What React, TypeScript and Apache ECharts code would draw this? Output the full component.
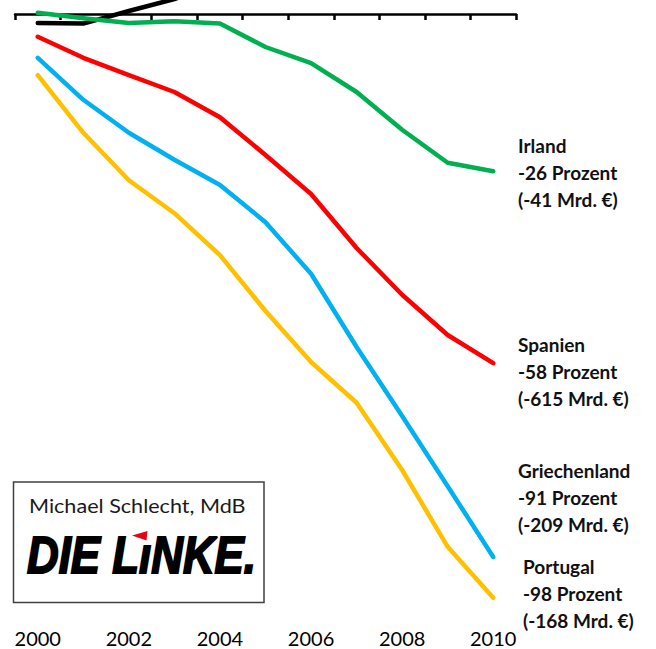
import React, { useEffect, useRef } from "react";
import * as echarts from "echarts";

const years = ["2000", "2001", "2002", "2003", "2004", "2005", "2006", "2007", "2008", "2009", "2010"];
const deutschland = [-1.5, -1.6, 0.5, 2.5, 5, 8, 12, 17, 20, 24, 27];
const irland = [0.2, -0.7, -1.5, -1.2, -1.6, -5.5, -8.2, -13, -19.3, -24.8, -26.2];
const spanien = [-3.8, -7.3, -10.2, -13, -17.2, -23.5, -30, -39, -46.8, -53.5, -58.2];
const griechenland = [-7.3, -14.3, -19.8, -24.3, -28.5, -34.7, -43.3, -55.5, -67, -78.7, -90.5];
const portugal = [-10.2, -19.8, -27.7, -33.2, -40.2, -49.5, -58, -64.8, -76, -88.8, -97.3];

const labelIrland = ["Irland", "-26 Prozent", "(-41 Mrd. €)"];
const labelSpanien = ["Spanien", "-58 Prozent", "(-615 Mrd. €)"];
const labelGriechenland = ["Griechenland", "-91 Prozent", "(-209 Mrd. €)"];
const labelPortugal = ["Portugal", "-98 Prozent", "(-168 Mrd. €)"];

const author = "Michael Schlecht, MdB";
const logoText = "DIE L\u0131NKE.";

export default function App() {
  const ref = useRef<HTMLDivElement>(null);
  useEffect(() => {
    if (!ref.current) return;
    const chart = echarts.init(ref.current, null, { renderer: "svg" });
    const lineSeries = (name: string, data: number[], color: string) => ({
      name,
      type: "line",
      data,
      xAxisIndex: 0,
      yAxisIndex: 0,
      symbol: "none",
      clip: true,
      lineStyle: { color, width: 4.5, cap: "round", join: "round" },
      itemStyle: { color },
    });
    const blockText = (x: number, top: number, lines: string[]) => ({
      type: "text",
      x,
      y: top,
      style: {
        text: lines.join("\n"),
        fontFamily: "Lato",
        fontWeight: "bold",
        fontSize: 19,
        lineHeight: 27,
        fill: "#111111",
        textAlign: "left",
        textVerticalAlign: "top",
      },
      z: 10,
    });
    chart.setOption({
      animation: false,
      backgroundColor: "#ffffff",
      grid: { left: 15, right: 140, top: 0, bottom: 29, containLabel: false },
      xAxis: [
        {
          type: "category",
          data: years,
          boundaryGap: true,
          position: "bottom",
          axisLine: { show: true, onZero: true, lineStyle: { color: "#000", width: 2.5 } },
          axisTick: { show: true, interval: 0, length: 6, lineStyle: { color: "#000", width: 2.5 } },
          axisLabel: { show: false },
          splitLine: { show: false },
        },
        {
          type: "category",
          data: years,
          boundaryGap: true,
          position: "bottom",
          axisLine: { show: false, onZero: false },
          axisTick: { show: false },
          axisLabel: {
            show: true,
            interval: 1,
            fontFamily: "Lato",
            fontSize: 20,
            lineHeight: 18,
            color: "#000",
            margin: 9,
          },
          splitLine: { show: false },
        },
      ],
      yAxis: {
        type: "value",
        min: -101,
        max: 7 / 3,
        show: false,
        splitLine: { show: false },
      },
      series: [
        lineSeries("Deutschland", deutschland, "#000000"),
        lineSeries("Irland", irland, "#00B050"),
        lineSeries("Spanien", spanien, "#FF0000"),
        lineSeries("Griechenland", griechenland, "#00B0F0"),
        lineSeries("Portugal", portugal, "#FFC000"),
      ],
      graphic: [
        blockText(518, 131.5, labelIrland),
        blockText(518, 330.5, labelSpanien),
        blockText(518, 456.5, labelGriechenland),
        blockText(523, 552.5, labelPortugal),
        {
          type: "rect",
          shape: { x: 13.5, y: 482, width: 250.5, height: 120.5 },
          style: { fill: "#ffffff", stroke: "#404040", lineWidth: 1.5 },
          z: 5,
        },
        {
          type: "text",
          x: 29,
          y: 505,
          scaleX: 1.08,
          style: {
            text: author,
            fontFamily: "Lato",
            fontSize: 20,
            fill: "#1a1a1a",
            textAlign: "left",
            textVerticalAlign: "middle",
          },
          z: 6,
        },
        {
          type: "text",
          x: 27,
          y: 555,
          scaleX: 0.86,
          style: {
            text: logoText,
            fontFamily: "Liberation Sans",
            fontWeight: "bold",
            fontStyle: "italic",
            fontSize: 51,
            fill: "#000000",
            stroke: "#000000",
            lineWidth: 2,
            textAlign: "left",
            textVerticalAlign: "middle",
          },
          z: 6,
        },
        {
          type: "polygon",
          shape: { points: [[132, 535.5], [147.5, 531], [146.5, 540.5]] },
          style: { fill: "#E30613" },
          z: 7,
        },
      ],
    });
    return () => chart.dispose();
  }, []);
  return (
    <div
      ref={ref}
      style={{ position: "absolute", left: 0, top: 0, width: 656, height: 649 }}
    />
  );
}
